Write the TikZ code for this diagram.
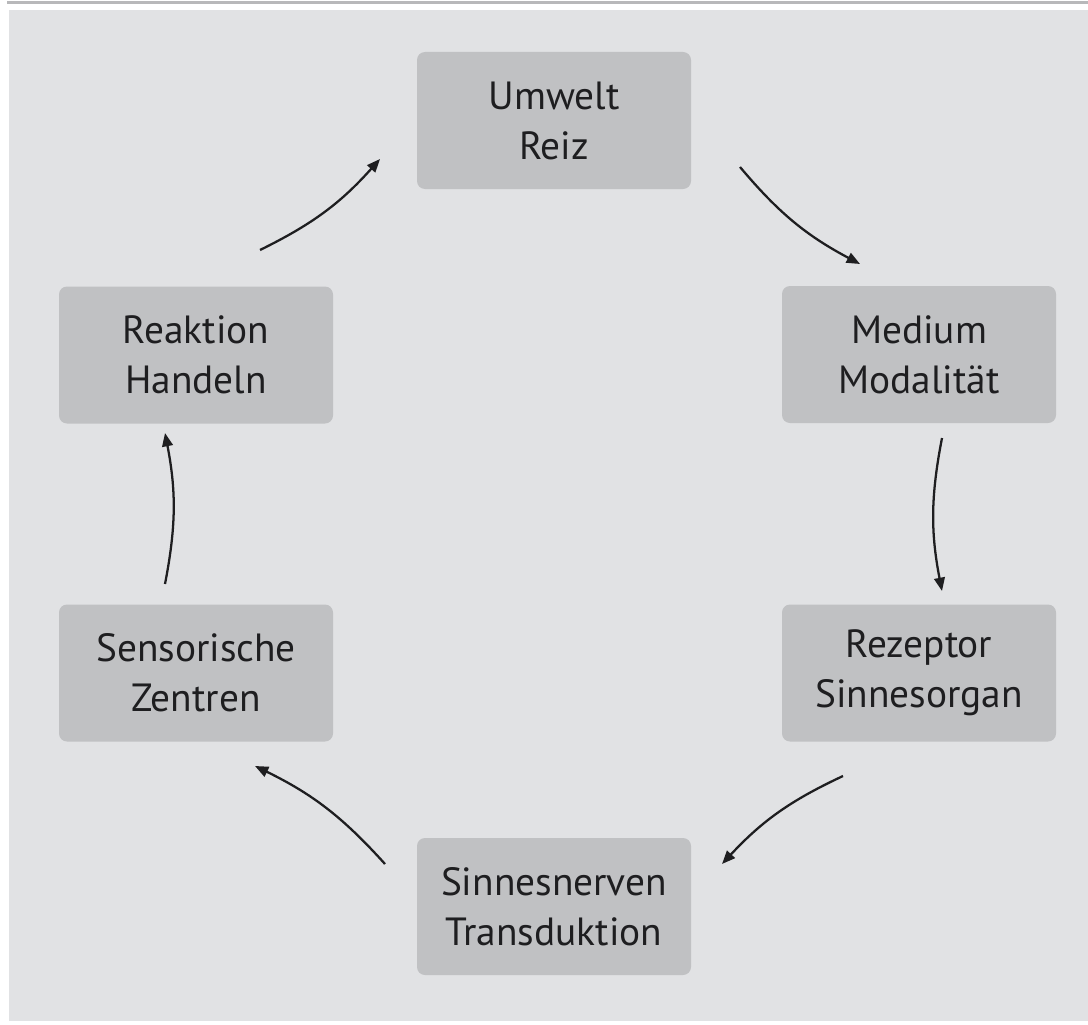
\documentclass[tikz,border=0pt]{standalone}
\usepackage{fontspec}
\setmainfont{PT Sans}
\usetikzlibrary{arrows.meta}

\definecolor{panelgray}{RGB}{225,226,228}
\definecolor{rulegray}{RGB}{184,184,186}
\definecolor{boxgray}{RGB}{192,193,195}
\definecolor{inkgray}{RGB}{30,30,32}

\tikzset{every picture/.style={line width=0.75pt}}
\tikzset{
  stage/.style={fill=boxgray, rounded corners=6pt, minimum width=205.5pt, minimum height=102.75pt,
    align=center, inner sep=0pt, text=inkgray, font=\fontsize{29.5}{37.5}\selectfont},
  flow/.style={draw=inkgray, line width=1.7pt, -{Triangle[length=10pt,width=8pt]}}
}

\begin{document}
\begin{tikzpicture}[x=0.75pt,y=0.75pt,yscale=-1,xscale=1]
\path[use as bounding box] (0,0) rectangle (1088,1024);

%Shape: Rectangle (background)
\fill [white] (0,0) rectangle (1088,1024);
\fill [panelgray] (9,10) rectangle (1088,1021);
%Straight Lines (top rule)
\draw [rulegray, line width=2.2pt] (7,2.6) -- (1088,2.6);

% Stage Nodes
\node [stage] (umwelt)   at (554,120.5) {Umwelt\\Reiz};
\node [stage] (medium)   at (919,354.5) {Medium\\Modalität};
\node [stage] (rezeptor) at (919,673)   {Rezeptor\\Sinnesorgan};
\node [stage] (nerven)   at (554,906.5) {Sinnesnerven\\Transduktion};
\node [stage] (zentren)  at (196,673)   {Sensorische\\Zentren};
\node [stage] (reaktion) at (196,355)   {Reaktion\\Handeln};

% Curved Arrows
\draw [flow] ([shift={(186,46.5)}]umwelt.center)   to[bend left=11] ([shift={(-59,-90.5)}]medium.center);
\draw [flow] ([shift={(23,83.5)}]medium.center)    to[bend left=11] ([shift={(23,-82)}]rezeptor.center);
\draw [flow] ([shift={(-76,103)}]rezeptor.center)  to[bend left=11] ([shift={(168,-42.5)}]nerven.center);
\draw [flow] ([shift={(-169,-42.5)}]nerven.center) to[bend left=11] ([shift={(59,93)}]zentren.center);
\draw [flow] ([shift={(-31,-89)}]zentren.center)   to[bend left=11] ([shift={(-31,78)}]reaktion.center);
\draw [flow] ([shift={(64,-105)}]reaktion.center)  to[bend left=11] ([shift={(-174,38.5)}]umwelt.center);

\end{tikzpicture}
\end{document}
